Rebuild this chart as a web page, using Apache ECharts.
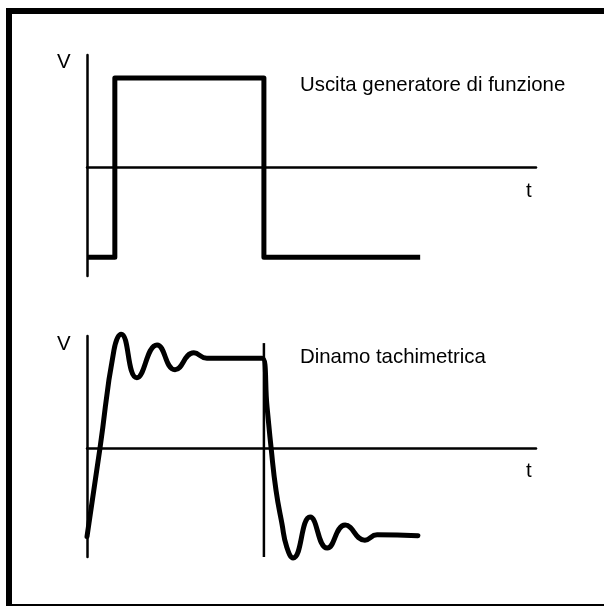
<!DOCTYPE html>
<html>
<head>
<meta charset="utf-8">
<title>Uscita generatore / Dinamo tachimetrica</title>
<script src="https://cdn.jsdelivr.net/npm/echarts@6/dist/echarts.min.js"></script>
<style>
  html, body { margin: 0; padding: 0; background: #fff; }
  #chart { width: 604px; height: 607px; }
</style>
</head>
<body>
<div id="chart"></div>
<script>
// time in arbitrary units, voltage normalised to the steady level
const genTime = [0, 6.2, 6.2, 39.4, 39.4, 74.2]
const genVolt = [-1.02, -1.02, 1.0, 1.0, -1.02, -1.02]

const tachTime = [0, 2.9, 6.0, 7.6, 11.1, 15.6, 19.6, 23.8, 26.7, 39.0,
  40.1, 41.0, 42.1, 43.4, 44.5, 45.9, 49.7, 53.5, 57.5, 61.9, 64.6, 73.7]
const tachVolt = [-1.0, 0.0, 1.1, 1.28, 0.79, 1.16, 0.88, 1.07, 1.01, 1.01,
  0.46, 0.0, -0.48, -0.85, -1.12, -1.24, -0.78, -1.13, -0.87, -1.04, -0.98, -0.99]

// vertical marker where the input switches
const markTime = [39.4, 39.4]
const markVolt = [1.18, -1.23]

const tMin = 0
const tMax = 100
const vMin = -1.23
const vMax = 1.26

const zip = (a, b) => a.map((v, i) => [v, b[i]])

const chart = echarts.init(document.getElementById('chart'), null, { renderer: 'canvas' })

const axisLine = { show: true, onZero: true, lineStyle: { color: '#000', width: 2.5 } }
const plainX = i => ({
  type: 'value', gridIndex: i, min: tMin, max: tMax,
  axisLine: axisLine, axisTick: { show: false }, axisLabel: { show: false }, splitLine: { show: false }
})
const plainY = i => ({
  type: 'value', gridIndex: i, min: vMin, max: vMax,
  axisLine: axisLine, axisTick: { show: false }, axisLabel: { show: false }, splitLine: { show: false }
})

const txt = (x, y, s) => ({
  type: 'text', x: x, y: y,
  style: { text: s, fill: '#000', font: '20.4px "Liberation Sans", Arial, sans-serif', verticalAlign: 'middle' }
})

chart.setOption({
  animation: false,
  backgroundColor: '#fff',
  grid: [
    { left: 87, top: 55, width: 449, height: 221 },
    { left: 87, top: 336, width: 449, height: 221 }
  ],
  xAxis: [plainX(0), plainX(1)],
  yAxis: [plainY(0), plainY(1)],
  series: [
    {
      name: 'Uscita generatore di funzione',
      type: 'line', xAxisIndex: 0, yAxisIndex: 0,
      data: zip(genTime, genVolt),
      showSymbol: false, clip: false,
      lineStyle: { color: '#000', width: 5, join: 'round' }
    },
    {
      name: 'Dinamo tachimetrica',
      type: 'line', xAxisIndex: 1, yAxisIndex: 1,
      data: zip(tachTime, tachVolt),
      smooth: 0.5,
      showSymbol: false, clip: false,
      lineStyle: { color: '#000', width: 5, join: 'round', cap: 'round' }
    },
    {
      type: 'line', xAxisIndex: 1, yAxisIndex: 1,
      data: zip(markTime, markVolt),
      showSymbol: false, clip: false, silent: true,
      lineStyle: { color: '#000', width: 2.5 }
    }
  ],
  graphic: [
    // frame
    { type: 'line', shape: { x1: 7, y1: 11, x2: 604, y2: 11 }, style: { stroke: '#000', lineWidth: 6 } },
    { type: 'line', shape: { x1: 9, y1: 8, x2: 9, y2: 606 }, style: { stroke: '#000', lineWidth: 6 } },
    { type: 'line', shape: { x1: 7, y1: 605, x2: 604, y2: 605 }, style: { stroke: '#000', lineWidth: 2 } },
    // labels
    txt(57, 62, 'V'),
    txt(300, 85, 'Uscita generatore di funzione'),
    txt(526, 191, 't'),
    txt(57, 344, 'V'),
    txt(300, 357, 'Dinamo tachimetrica'),
    txt(526, 471, 't')
  ]
})
</script>
</body>
</html>
